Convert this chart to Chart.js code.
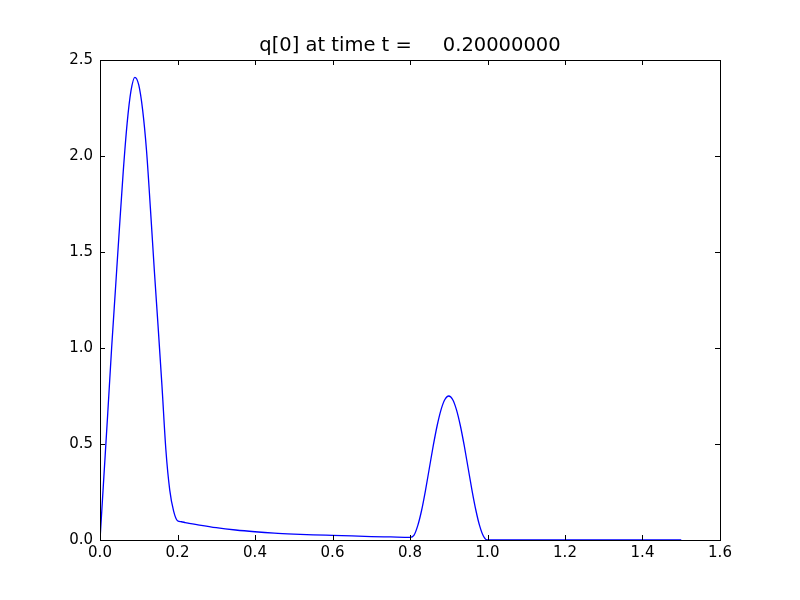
<!DOCTYPE html>
<html>
<head>
<meta charset="utf-8">
<script src="https://cdn.jsdelivr.net/npm/chart.js@4/dist/chart.umd.min.js"></script>
<style>
  html, body { margin: 0; padding: 0; background: #ffffff; }
  canvas { display: block; }
</style>
</head>
<body>
<canvas id="qChart" width="800" height="600"></canvas>
<script>
// q[0] profile at t = 0.2
var xValues = [
  0.00, 0.01, 0.02, 0.03, 0.04, 0.05, 0.06, 0.07, 0.08, 0.09,
  0.10, 0.11, 0.12, 0.13, 0.14, 0.15, 0.16, 0.17, 0.18, 0.19,
  0.20, 0.21, 0.22, 0.23, 0.25, 0.30, 0.35, 0.40, 0.45, 0.50,
  0.55, 0.60, 0.65, 0.70, 0.75, 0.80, 0.81, 0.82, 0.83, 0.84,
  0.85, 0.86, 0.87, 0.88, 0.89, 0.90, 0.91, 0.92, 0.93, 0.94,
  0.95, 0.96, 0.97, 0.98, 0.99, 1.00, 1.10, 1.20, 1.30, 1.40,
  1.50
];
var qValues = [
  0.00, 0.33, 0.66, 1.00, 1.31, 1.62, 1.92, 2.17, 2.34, 2.41,
  2.37, 2.24, 2.03, 1.73, 1.41, 1.11, 0.80, 0.47, 0.26, 0.15,
  0.100, 0.095, 0.091, 0.087, 0.080, 0.064, 0.052, 0.043, 0.036, 0.031,
  0.027, 0.024, 0.021, 0.018, 0.016, 0.014, 0.024, 0.075, 0.155, 0.259,
  0.375, 0.491, 0.595, 0.678, 0.732, 0.750, 0.732, 0.678, 0.595, 0.491,
  0.375, 0.259, 0.155, 0.072, 0.018, 0.000, 0.000, 0.000, 0.000, 0.000,
  0.000
];
var titleText = 'q[0] at time t =     0.20000000';

var points = xValues.map(function (x, i) { return { x: x, y: qValues[i] }; });

// matplotlib-style frame with inward ticks on all four sides
var frameTicks = {
  id: 'frameTicks',
  afterDraw: function (chart) {
    var ctx = chart.ctx, a = chart.chartArea;
    var xs = chart.scales.x, ys = chart.scales.y;
    var len = 5;
    ctx.save();
    ctx.strokeStyle = '#000000';
    ctx.lineWidth = 1;
    ctx.beginPath();
    xs.ticks.forEach(function (t) {
      var px = Math.round(xs.getPixelForValue(t.value)) + 0.5;
      ctx.moveTo(px, a.bottom); ctx.lineTo(px, a.bottom - len);
      ctx.moveTo(px, a.top); ctx.lineTo(px, a.top + len);
    });
    ys.ticks.forEach(function (t) {
      var py = Math.round(ys.getPixelForValue(t.value)) + 0.5;
      ctx.moveTo(a.left, py); ctx.lineTo(a.left + len, py);
      ctx.moveTo(a.right, py); ctx.lineTo(a.right - len, py);
    });
    ctx.stroke();
    ctx.strokeRect(Math.round(a.left) + 0.5, Math.round(a.top) + 0.5,
                   Math.round(a.right - a.left), Math.round(a.bottom - a.top));
    ctx.restore();
  }
};

var ctx = document.getElementById('qChart').getContext('2d');
var qChart = new Chart(ctx, {
  type: 'scatter',
  data: {
    datasets: [{
      data: points,
      showLine: true,
      borderColor: '#0000ff',
      borderWidth: 1.3,
      pointRadius: 0,
      fill: false,
      cubicInterpolationMode: 'monotone'
    }]
  },
  options: {
    responsive: false,
    animation: false,
    layout: { padding: { left: 0, right: 80, top: 0, bottom: 0 } },
    plugins: {
      legend: { display: false },
      tooltip: { enabled: false },
      title: {
        display: true,
        text: titleText,
        fullSize: false,
        color: '#000000',
        font: { family: 'DejaVu Sans', size: 19.5, weight: 'normal', lineHeight: 1.2 },
        padding: { top: 34, bottom: 2.6 }
      }
    },
    scales: {
      x: {
        type: 'linear',
        min: 0, max: 1.6,
        border: { display: false },
        grid: { display: false, drawTicks: false },
        afterFit: function (s) { s.height = 60; },
        ticks: {
          stepSize: 0.2,
          padding: 4,
          color: '#000000',
          maxRotation: 0,
          font: { family: 'DejaVu Sans', size: 15 },
          callback: function (v) { return v.toFixed(1); }
        }
      },
      y: {
        type: 'linear',
        min: 0, max: 2.5,
        border: { display: false },
        grid: { display: false, drawTicks: false },
        afterFit: function (s) { s.width = 100; },
        ticks: {
          stepSize: 0.5,
          padding: 7,
          color: '#000000',
          font: { family: 'DejaVu Sans', size: 15 },
          callback: function (v) { return v.toFixed(1); }
        }
      }
    }
  },
  plugins: [frameTicks]
});
</script>
</body>
</html>
